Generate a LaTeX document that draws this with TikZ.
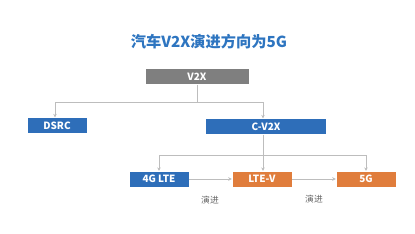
\documentclass[tikz,border=0pt]{standalone}
\usepackage{fontspec}
\setmainfont{Noto Sans CJK SC}
\usetikzlibrary{arrows.meta, positioning}

\definecolor{boxblue}{HTML}{2E6EB9}
\definecolor{boxorange}{HTML}{E07D3C}
\definecolor{boxgray}{HTML}{7F7F7F}
\definecolor{titleblue}{HTML}{2E75C0}
\definecolor{linegray}{HTML}{BDBDBD}

\begin{document}
\begin{tikzpicture}[
    x=0.03cm, y=-0.03cm,
    block/.style={rectangle, draw=white, fill=boxblue, text=white, inner sep=0pt, minimum width=1.8cm, minimum height=0.47cm, font=\fontsize{8.5pt}{10pt}\selectfont\bfseries},
    grey block/.style={block, fill=boxgray},
    orange block/.style={block, fill=boxorange},
    link/.style={draw=linegray, thick},
    arrow/.style={link, -{Stealth[length=3pt, width=3pt]}},
    note/.style={text=black!60, font=\fontsize{7.5pt}{9pt}\selectfont}
]
    \useasboundingbox (0,0) rectangle (415,234);

    \node[text=titleblue, font=\fontsize{13pt}{15pt}\selectfont\bfseries] (title) at (209,42) {汽车V2X演进方向为5G};

    \node[grey block, minimum width=3.12cm] (v2x) at (197,76.5) {V2X};
    \node[block] (dsrc) at (57,125.5) {DSRC};
    \node[block, minimum width=3.63cm] (cv2x) at (266,126.5) {C-V2X};

    \node[block] (lte4g) at (159,179) {4G LTE};
    \node[orange block] (ltev) at (262,179) {LTE-V};
    \node[orange block] (g5) at (366,179) {5G};

    \node[note] (evo1) at (210,200) {演进};
    \node[note] (evo2) at (314,199) {演进};

    % first level
    \coordinate (split1) at (197,102);
    \coordinate (cv2x in) at ([xshift=-0.09cm]cv2x.north);
    \draw[link] (v2x.south) -- (split1);
    \draw[arrow] (split1) -| ([xshift=-0.06cm]dsrc.north);
    \draw[arrow] (split1) -| (cv2x in);

    % second level
    \coordinate (split2) at (cv2x in |- 0,155);
    \draw[link] (cv2x.south -| split2) -- (split2);
    \draw[arrow] (split2) -| (lte4g.north);
    \draw[arrow] (split2) -- (split2 |- ltev.north);
    \draw[arrow] (split2) -| (g5.north);

    \draw[arrow] (lte4g) -- (ltev);
    \draw[arrow] (ltev) -- (g5);
\end{tikzpicture}
\end{document}
